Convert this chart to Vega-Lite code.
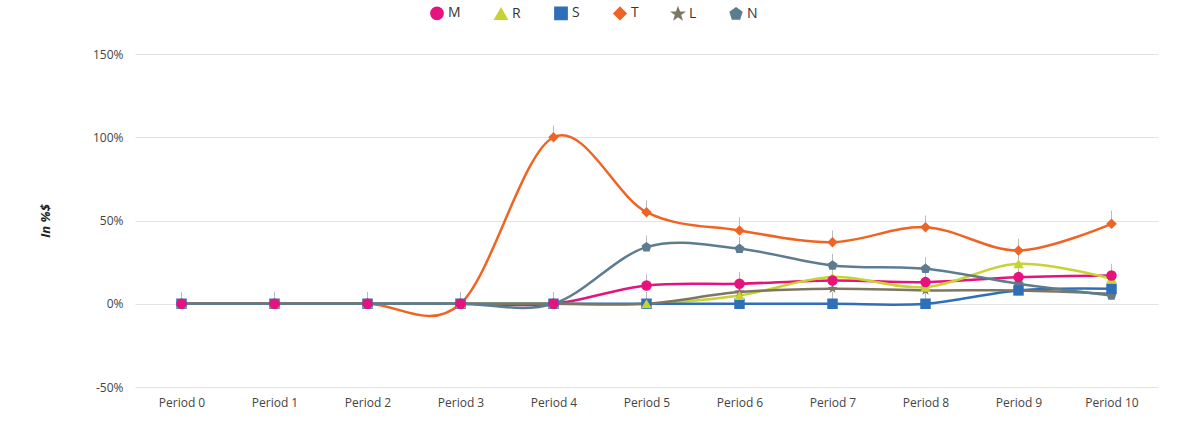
{
  "$schema": "https://vega.github.io/schema/vega-lite/v6.json",
  "width": 1023,
  "height": 333,
  "autosize": "none",
  "padding": {"left": 135, "top": 54, "right": 34, "bottom": 45},
  "config": {
    "view": {"stroke": null},
    "font": "Open Sans",
    "axis": {"labelFont": "Open Sans", "labelColor": "#444", "labelFontSize": 12, "domain": false, "ticks": false}
  },
  "data": {"values": [
    {"s":"M","o":6,"p":"Period 0","v":0,"hi":7},{"s":"M","o":6,"p":"Period 1","v":0,"hi":7},{"s":"M","o":6,"p":"Period 2","v":0,"hi":7},{"s":"M","o":6,"p":"Period 3","v":0,"hi":7},{"s":"M","o":6,"p":"Period 4","v":0,"hi":7},{"s":"M","o":6,"p":"Period 5","v":11,"hi":18},{"s":"M","o":6,"p":"Period 6","v":12,"hi":19},{"s":"M","o":6,"p":"Period 7","v":14,"hi":21},{"s":"M","o":6,"p":"Period 8","v":13,"hi":20},{"s":"M","o":6,"p":"Period 9","v":16,"hi":23},{"s":"M","o":6,"p":"Period 10","v":17,"hi":24},
    {"s":"R","o":5,"p":"Period 0","v":0,"hi":7},{"s":"R","o":5,"p":"Period 1","v":0,"hi":7},{"s":"R","o":5,"p":"Period 2","v":0,"hi":7},{"s":"R","o":5,"p":"Period 3","v":0,"hi":7},{"s":"R","o":5,"p":"Period 4","v":0,"hi":7},{"s":"R","o":5,"p":"Period 5","v":0,"hi":7},{"s":"R","o":5,"p":"Period 6","v":5,"hi":12},{"s":"R","o":5,"p":"Period 7","v":16,"hi":23},{"s":"R","o":5,"p":"Period 8","v":10,"hi":17},{"s":"R","o":5,"p":"Period 9","v":24,"hi":31},{"s":"R","o":5,"p":"Period 10","v":15,"hi":22},
    {"s":"S","o":4,"p":"Period 0","v":0,"hi":7},{"s":"S","o":4,"p":"Period 1","v":0,"hi":7},{"s":"S","o":4,"p":"Period 2","v":0,"hi":7},{"s":"S","o":4,"p":"Period 3","v":0,"hi":7},{"s":"S","o":4,"p":"Period 4","v":0,"hi":7},{"s":"S","o":4,"p":"Period 5","v":0,"hi":7},{"s":"S","o":4,"p":"Period 6","v":0,"hi":7},{"s":"S","o":4,"p":"Period 7","v":0,"hi":7},{"s":"S","o":4,"p":"Period 8","v":0,"hi":7},{"s":"S","o":4,"p":"Period 9","v":8,"hi":15},{"s":"S","o":4,"p":"Period 10","v":9,"hi":16},
    {"s":"T","o":3,"p":"Period 0","v":0,"hi":7},{"s":"T","o":3,"p":"Period 1","v":0,"hi":7},{"s":"T","o":3,"p":"Period 2","v":0,"hi":7},{"s":"T","o":3,"p":"Period 3","v":0,"hi":7},{"s":"T","o":3,"p":"Period 4","v":100,"hi":107},{"s":"T","o":3,"p":"Period 5","v":55,"hi":62},{"s":"T","o":3,"p":"Period 6","v":44,"hi":52},{"s":"T","o":3,"p":"Period 7","v":37,"hi":44},{"s":"T","o":3,"p":"Period 8","v":46,"hi":53},{"s":"T","o":3,"p":"Period 9","v":32,"hi":39},{"s":"T","o":3,"p":"Period 10","v":48,"hi":56},
    {"s":"L","o":2,"p":"Period 0","v":0,"hi":7},{"s":"L","o":2,"p":"Period 1","v":0,"hi":7},{"s":"L","o":2,"p":"Period 2","v":0,"hi":7},{"s":"L","o":2,"p":"Period 3","v":0,"hi":7},{"s":"L","o":2,"p":"Period 4","v":0,"hi":7},{"s":"L","o":2,"p":"Period 5","v":0,"hi":7},{"s":"L","o":2,"p":"Period 6","v":7,"hi":14},{"s":"L","o":2,"p":"Period 7","v":9,"hi":16},{"s":"L","o":2,"p":"Period 8","v":8,"hi":15},{"s":"L","o":2,"p":"Period 9","v":8,"hi":15},{"s":"L","o":2,"p":"Period 10","v":6,"hi":13},
    {"s":"N","o":1,"p":"Period 0","v":0,"hi":7},{"s":"N","o":1,"p":"Period 1","v":0,"hi":7},{"s":"N","o":1,"p":"Period 2","v":0,"hi":7},{"s":"N","o":1,"p":"Period 3","v":0,"hi":7},{"s":"N","o":1,"p":"Period 4","v":0,"hi":7},{"s":"N","o":1,"p":"Period 5","v":34,"hi":41},{"s":"N","o":1,"p":"Period 6","v":33,"hi":40},{"s":"N","o":1,"p":"Period 7","v":23,"hi":30},{"s":"N","o":1,"p":"Period 8","v":21,"hi":28},{"s":"N","o":1,"p":"Period 9","v":12,"hi":19},{"s":"N","o":1,"p":"Period 10","v":5,"hi":12}
  ]},
  "encoding": {
    "x": {"field": "p", "type": "ordinal", "title": null,
      "sort": ["Period 0","Period 1","Period 2","Period 3","Period 4","Period 5","Period 6","Period 7","Period 8","Period 9","Period 10"],
      "scale": {"type": "point", "padding": 0.5},
      "axis": {"labelAngle": 0, "labelPadding": 10, "grid": false}}
  },
  "layer": [
    {
      "mark": {"type": "rule", "color": "#bbb", "strokeWidth": 1},
      "encoding": {"y": {"field": "v", "type": "quantitative"}, "y2": {"field": "hi"}}
    },
    {
      "mark": {"type": "line", "interpolate": "cardinal", "strokeWidth": 2.5},
      "encoding": {
        "y": {"field": "v", "type": "quantitative", "title": "In %$",
          "scale": {"domain": [-50, 150], "nice": false},
          "axis": {"values": [-50, 0, 50, 100, 150], "labelExpr": "datum.value + '%'", "gridColor": "#e3e3e3", "labelPadding": 12,
            "titleFontStyle": "italic", "titleFontWeight": "bold", "titleFontSize": 13, "titleColor": "#222", "titlePadding": 40}},
        "color": {"field": "s", "type": "nominal", "title": null,
          "scale": {"domain": ["M","R","S","T","L","N"], "range": ["#e5137b","#c6d330","#2f6fb8","#ef6423","#7e7663","#5e7c90"]},
          "legend": {"orient": "none", "legendX": 295, "legendY": -48, "direction": "horizontal", "columnPadding": 30, "labelFontSize": 14, "labelColor": "#333", "symbolSize": 150}}
      }
    },
    {
      "mark": {"type": "rule", "color": "#999", "strokeWidth": 1},
      "encoding": {"y": {"datum": 0}}
    },
    {
      "mark": {"type": "point", "filled": true, "opacity": 1, "size": 110},
      "encoding": {
        "y": {"field": "v", "type": "quantitative"},
        "color": {"field": "s", "type": "nominal", "title": null},
        "order": {"field": "o", "type": "quantitative"},
        "shape": {"field": "s", "type": "nominal", "title": null,
          "scale": {"domain": ["M","R","S","T","L","N"], "range": ["circle","triangle-up","square","diamond","M0,-1L0.24,-0.33L0.95,-0.31L0.38,0.12L0.59,0.81L0,0.4L-0.59,0.81L-0.38,0.12L-0.95,-0.31L-0.24,-0.33Z","M0,-1L0.95,-0.31L0.59,0.81L-0.59,0.81L-0.95,-0.31Z"]}}
      }
    }
  ]
}
